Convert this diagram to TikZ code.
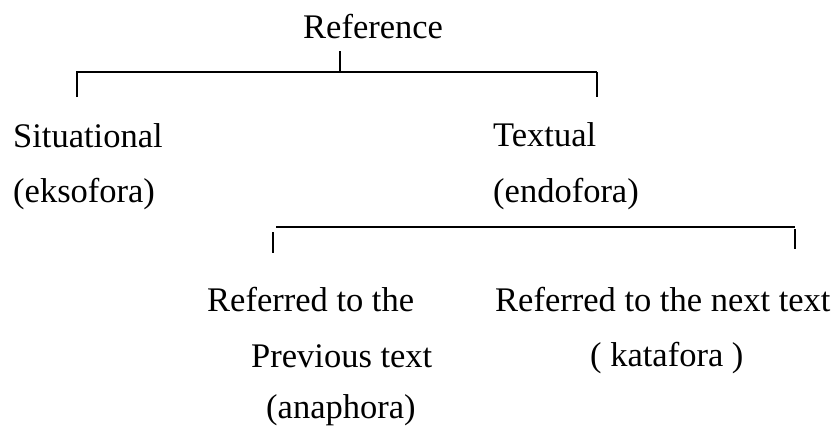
\documentclass[tikz,border=0pt]{standalone}
\usepackage{fontspec}
\setmainfont{Liberation Serif}
\tikzset{
  lbl/.style={anchor=base west, inner sep=0pt, font=\fontsize{34.5}{40}\selectfont},
  brk/.style={line width=1.3pt, line cap=butt}
}
\begin{document}
\begin{tikzpicture}[x=1pt,y=-1pt]
\useasboundingbox (0,0) rectangle (840,426);
% texts
\node[lbl] (ref) at (303,38) {Reference};
\node[lbl] (sit) at (13,147) {Situational};
\node[lbl] (eks) at (13,202) {(eksofora)};
\node[lbl] (tex) at (493,146) {Textual};
\node[lbl] (endo) at (493,202) {(endofora)};
\node[lbl] (ra) at (207,311) {Referred to the};
\node[lbl] (rb) at (251,367) {Previous text};
\node[lbl] (rc) at (266,418) {(anaphora)};
\node[lbl] (na) at (495,311) {Referred to the next text};
\node[lbl] (nb) at (590,366) {( katafora )};
% bracket 1
\coordinate (t1) at (340,51);
\coordinate (m1) at (340,72);
\coordinate (l1) at (77,72);
\coordinate (l1b) at (77,97);
\coordinate (r1) at (597,72);
\coordinate (r1b) at (597,97);
\draw[brk] (t1) -- (m1);
\draw[brk] (l1b) -- (l1) -- (r1);
\draw[brk] (r1) -- (r1b);
% bracket 2
\coordinate (l2) at (276,227);
\coordinate (r2) at (795,227);
\coordinate (l2t) at (273,232);
\coordinate (l2b) at (273,253);
\coordinate (r2t) at (795,229);
\coordinate (r2b) at (795,249);
\draw[brk] (l2) -- (r2);
\draw[brk] (l2t) -- (l2b);
\draw[brk] (r2t) -- (r2b);
\end{tikzpicture}
\end{document}
